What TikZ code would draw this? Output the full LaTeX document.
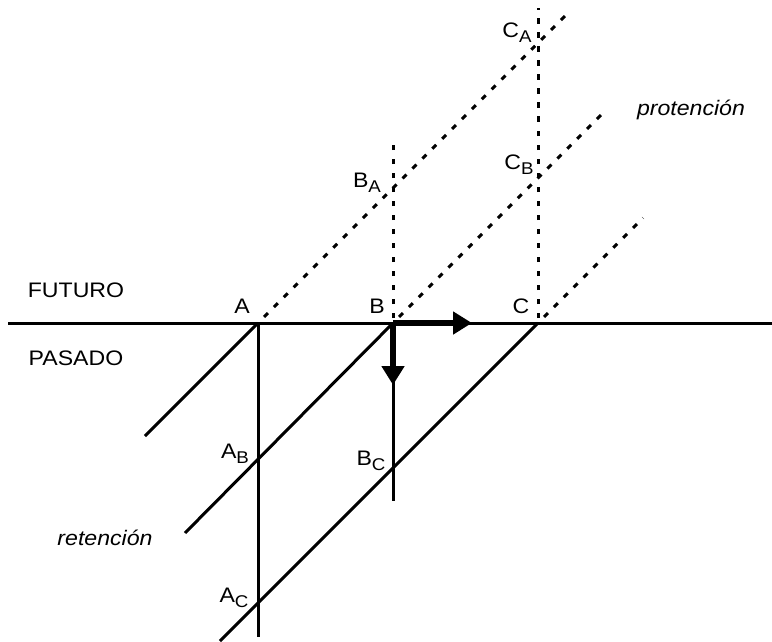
\documentclass[tikz,border=0pt]{standalone}
\usepackage{fontspec}
\setmainfont{Liberation Sans}
\usetikzlibrary{arrows.meta}
\newcommand\wide[1]{\scalebox{1.1}[1]{#1}}
\newcommand\subl[2]{\wide{#1\raisebox{-5pt}{\fontsize{17}{17}\selectfont #2}}}
\tikzset{
  solidline/.style={line width=3pt},
  dotline/.style={line width=3pt, dash pattern=on 5.5pt off 8.5pt},
  bigarrow/.style={line width=5.5pt, -{Triangle[length=19pt,width=22pt]}},
  lbl/.style={font=\fontsize{21}{21}\selectfont, inner sep=0pt},
  ilbl/.style={font=\fontsize{21}{21}\selectfont\itshape, inner sep=0pt}
}
\begin{document}
\begin{tikzpicture}[x=1pt,y=-1pt]
\useasboundingbox (0,0) rectangle (772,642);
% key points
\coordinate (A) at (258,323);
\coordinate (B) at (393,323);
\coordinate (C) at (538,323);
\coordinate (L) at (8,323);
\coordinate (R) at (772,323);
% ends
\coordinate (Ad) at (258,637);
\coordinate (Bd) at (393,501);
\coordinate (Aw) at (145,436);
\coordinate (Bw) at (185,533);
\coordinate (Cw) at (220,641);
\coordinate (Au) at (570,11);
\coordinate (Bu) at (605,111);
\coordinate (Cu) at (643,218);
\coordinate (Bv) at (393,145);
\coordinate (Cv) at (538,8);
\coordinate (Rt) at (472,323);
\coordinate (Dt) at (393,385);
% solid lines
\draw[solidline] (L) -- (R);
\draw[solidline] (A) -- (Ad);
\draw[solidline] (B) -- (Bd);
\draw[solidline] (A) -- (Aw);
\draw[solidline] (B) -- (Bw);
\draw[solidline] (C) -- (Cw);
% dotted lines
\draw[dotline] (A) ++(6,-6) -- (Au);
\draw[dotline] (B) ++(6,-6) -- (Bu);
\draw[dotline] (C) ++(6,-6) -- (Cu);
\draw[dotline] (B) ++(0,-5) -- (Bv);
\draw[dotline] (C) ++(0,-5) -- (Cv);
% arrows
\draw[bigarrow] (B) -- (Rt);
\draw[bigarrow] (B) -- (Dt);
% labels
\node[lbl] (lF) at (76,290) {\wide{FUTURO}};
\node[lbl] (lP) at (76,358) {\wide{PASADO}};
\node[lbl] (lA) at (242,306) {\wide{A}};
\node[lbl] (lB) at (377,306) {\wide{B}};
\node[lbl] (lC) at (521,306) {\wide{C}};
\node[lbl] (lCA) at (517,33) {\subl{C}{A}};
\node[lbl] (lBA) at (367,183) {\subl{B}{A}};
\node[lbl] (lCB) at (519,165) {\subl{C}{B}};
\node[lbl] (lAB) at (235,454) {\subl{A}{B}};
\node[lbl] (lBC) at (371,461) {\subl{B}{C}};
\node[lbl] (lAC) at (234,598) {\subl{A}{C}};
\node[ilbl] (lpro) at (691,110) {\wide{protención}};
\node[ilbl] (lret) at (105,538) {\wide{retención}};
\end{tikzpicture}
\end{document}
